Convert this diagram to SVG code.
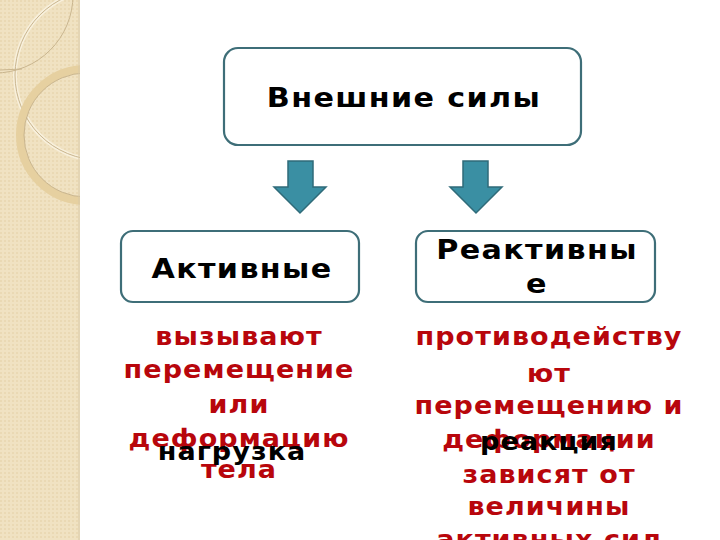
<svg xmlns="http://www.w3.org/2000/svg" width="720" height="540" viewBox="0 0 720 540">
<defs>
<pattern id="tex" width="4" height="4" patternUnits="userSpaceOnUse">
<rect width="4" height="4" fill="#f0e2c2"/>
<rect width="2" height="2" fill="#ead9b4"/>
</pattern>
<clipPath id="side"><rect x="0" y="0" width="80" height="540"/></clipPath>
</defs>
<style>
.box{fill:#ffffff;stroke:#3e6e78;stroke-width:2.2}
.arrow{fill:#3a8fa3;stroke:#2f6b79;stroke-width:1.5}
.t{font-family:"DejaVu Sans",sans-serif;font-weight:bold;text-anchor:middle}
.title{font-size:27px;fill:#000;letter-spacing:1.2px}
.head{font-size:27px;fill:#000;letter-spacing:1.2px}
.red{font-size:25px;fill:#b8060c;letter-spacing:1px}
.blk{font-size:25px;fill:#000;letter-spacing:1px}
</style>
<rect width="720" height="540" fill="#ffffff"/>
<g id="sidebar" clip-path="url(#side)">
<rect x="0" y="0" width="80" height="540" fill="url(#tex)"/>
<circle cx="100" cy="75" r="85" fill="none" stroke="#f8f0dc" stroke-width="4"/>
<circle cx="100" cy="75" r="85" fill="none" stroke="#c9b58e" stroke-width="1"/>
<circle cx="-5" cy="-5" r="78" fill="none" stroke="#c9b58e" stroke-width="1"/>
<circle cx="86" cy="135" r="66" fill="none" stroke="#e6d0a0" stroke-width="8"/>
<circle cx="86" cy="135" r="62" fill="none" stroke="#c9b58e" stroke-width="1"/>
<polyline points="0,70 22,69" fill="none" stroke="#c9b58e" stroke-width="1"/>
<line x1="79" y1="0" x2="79" y2="540" stroke="#d8c8a6" stroke-width="1"/>
</g>
<g id="connectors">
<polygon class="arrow" points="288,161 313,161 313,187 326,187 300,213 274,187 288,187"/>
<polygon class="arrow" points="463,161 488,161 488,187 502,187 476,213 450,187 463,187"/>
</g>
<g id="node-external">
<rect class="box" x="224" y="48" width="357" height="97" rx="14"/>
<text class="t title" transform="translate(404,107) scale(1.12,1)">Внешние силы</text>
</g>
<g id="node-active">
<rect class="box" x="121" y="231" width="238" height="71" rx="12"/>
<text class="t head" transform="translate(242,278) scale(1.12,1)">Активные</text>
</g>
<g id="node-reactive">
<rect class="box" x="416" y="231" width="239" height="71" rx="12"/>
<text class="t head" transform="translate(537,259) scale(1.12,1)">Реактивны</text>
<text class="t head" transform="translate(537,293) scale(1.12,1)">е</text>
</g>
<g id="desc-active">
<text class="t red" transform="translate(239,345) scale(1.08,1)">вызывают</text>
<text class="t red" transform="translate(239,378) scale(1.08,1)">перемещение</text>
<text class="t red" transform="translate(239,413) scale(1.08,1)">или</text>
<text class="t red" transform="translate(239,447) scale(1.08,1)">деформацию</text>
<text class="t red" transform="translate(239,478) scale(1.08,1)">тела</text>
<text class="t blk" transform="translate(232,460) scale(1.08,1)">нагрузка</text>
</g>
<g id="desc-reactive">
<text class="t red" transform="translate(549,345) scale(1.08,1)">противодейству</text>
<text class="t red" transform="translate(549,382) scale(1.08,1)">ют</text>
<text class="t red" transform="translate(549,414) scale(1.08,1)">перемещению и</text>
<text class="t red" transform="translate(549,448) scale(1.08,1)">деформации</text>
<text class="t red" transform="translate(549,483) scale(1.08,1)">зависят от</text>
<text class="t red" transform="translate(549,515) scale(1.08,1)">величины</text>
<text class="t red" transform="translate(549,548) scale(1.08,1)">активных сил</text>
<text class="t blk" transform="translate(549,450) scale(1.08,1)">реакция</text>
</g>
</svg>
